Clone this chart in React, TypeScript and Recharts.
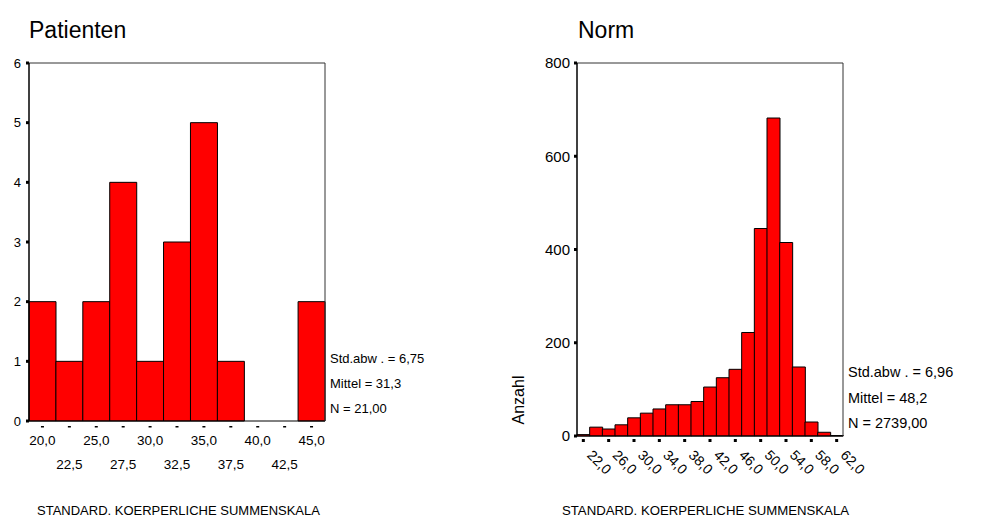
import React from 'react';
import { BarChart, Bar, XAxis, YAxis } from 'recharts';

const FONT = '"Liberation Sans", Arial, Helvetica, sans-serif';

// Patienten histogram (bin centres, width 2.5)
const patientBins = [20, 22.5, 25, 27.5, 30, 32.5, 35, 37.5, 40, 42.5, 45];
const patientCounts = [2, 1, 2, 4, 1, 3, 5, 1, 0, 0, 2];
const patientTicks = [0, 1, 2, 3, 4, 5, 6];
const patientStats = ['Std.abw . = 6,75', 'Mittel = 31,3', 'N = 21,00'];

// Norm histogram (bin centres, width 2)
const normBins = [22, 24, 26, 28, 30, 32, 34, 36, 38, 40, 42, 44, 46, 48, 50, 52, 54, 56, 58, 60, 62];
const normCounts = [3, 19, 15, 24, 39, 49, 58, 67, 67, 74, 105, 125, 143, 222, 445, 682, 415, 148, 30, 8, 1];
const normTicks = [0, 200, 400, 600, 800];
const normStats = ['Std.abw . = 6,96', 'Mittel = 48,2', 'N = 2739,00'];

const xTitle = 'STANDARD. KOERPERLICHE SUMMENSKALA';

const fmt = (v: number) => v.toFixed(1).replace('.', ',');

const patientData = patientBins.map((b, i) => ({ label: fmt(b), count: patientCounts[i] }));
const normData = normBins.map((b, i) => ({ label: fmt(b), count: normCounts[i] }));

function PatientTick(props: any) {
  const { x, y, payload, index } = props;
  const row = index % 2 === 0 ? 22 : 46;
  return (
    <g>
      <rect x={x - 1.5} y={y + 3} width={3} height={1.5} fill="#000" />
      <text x={x} y={y + row} textAnchor="middle" fontSize={13.5} fontFamily={FONT} fill="#000">
        {payload.value}
      </text>
    </g>
  );
}

function NormTick(props: any) {
  const { x, y, payload } = props;
  const tx = x + 3;
  const ty = y + 18;
  return (
    <g>
      <rect x={x - 1.5} y={y + 1} width={3} height={3} fill="#000" />
      <text x={tx} y={ty} transform={`rotate(45 ${tx} ${ty})`} textAnchor="start" fontSize={14} fontFamily={FONT} fill="#000">
        {payload.value}
      </text>
    </g>
  );
}

function PatientChart() {
  return (
    <div style={{ position: 'absolute', left: 0, top: 0 }}>
      <BarChart width={340} height={520} data={patientData} margin={{ top: 62, right: 14, bottom: 49, left: 0 }} barCategoryGap={0}>
        <XAxis dataKey="label" interval={0} height={50} tickLine={false} tickSize={0} axisLine={{ stroke: '#000' }} tick={<PatientTick />} />
        <XAxis xAxisId="top" orientation="top" dataKey="label" height={1} tick={false} tickLine={false} axisLine={{ stroke: '#333' }} />
        <YAxis
          domain={[0, 6]}
          ticks={patientTicks}
          width={29}
          tickSize={3}
          tickMargin={5}
          tickLine={{ stroke: '#000', strokeWidth: 3 }}
          axisLine={{ stroke: '#000', strokeWidth: 1.5 }}
          tick={{ fill: '#000', fontSize: 13, fontFamily: FONT }}
        />
        <YAxis yAxisId="right" orientation="right" domain={[0, 6]} width={1} tick={false} tickLine={false} axisLine={{ stroke: '#333' }} />
        <Bar dataKey="count" fill="#ff0000" stroke="#000" strokeWidth={1} isAnimationActive={false} />
      </BarChart>
    </div>
  );
}

function NormChart() {
  return (
    <div style={{ position: 'absolute', left: 495, top: 0 }}>
      <BarChart width={390} height={520} data={normData} margin={{ top: 62, right: 41, bottom: 34, left: 0 }} barCategoryGap={0}>
        <XAxis dataKey="label" interval={1} height={50} tickLine={false} tickSize={0} axisLine={{ stroke: '#000' }} tick={<NormTick />} />
        <XAxis xAxisId="top" orientation="top" dataKey="label" height={1} tick={false} tickLine={false} axisLine={{ stroke: '#333' }} />
        <YAxis
          domain={[0, 800]}
          ticks={normTicks}
          width={82}
          tickSize={3}
          tickMargin={4}
          tickLine={{ stroke: '#000', strokeWidth: 3 }}
          axisLine={{ stroke: '#000', strokeWidth: 1.5 }}
          tick={{ fill: '#000', fontSize: 15, fontFamily: FONT }}
        />
        <YAxis yAxisId="right" orientation="right" domain={[0, 800]} width={1} tick={false} tickLine={false} axisLine={{ stroke: '#333' }} />
        <Bar dataKey="count" fill="#ff0000" stroke="#000" strokeWidth={1} isAnimationActive={false} />
      </BarChart>
    </div>
  );
}

export default function App() {
  return (
    <div style={{ position: 'absolute', left: 0, top: 0, width: 991, height: 520, background: '#fff', overflow: 'hidden' }}>
      <PatientChart />
      <NormChart />
      <svg width={991} height={520} style={{ position: 'absolute', left: 0, top: 0, pointerEvents: 'none' }} fontFamily={FONT} fill="#000">
        <text x={29} y={38} fontSize={23}>Patienten</text>
        <text x={578} y={38} fontSize={23}>Norm</text>
        {patientStats.map((s, i) => (
          <text key={s} x={330} y={363 + i * 25} fontSize={13}>{s}</text>
        ))}
        {normStats.map((s, i) => (
          <text key={s} x={848} y={377 + i * 25.5} fontSize={14.5}>{s}</text>
        ))}
        <text x={524} y={400} fontSize={16} textAnchor="middle" transform="rotate(-90 524 400)">Anzahl</text>
        <text x={37} y={515} fontSize={13}>{xTitle}</text>
        <text x={562} y={515} fontSize={13.2}>{xTitle}</text>
      </svg>
    </div>
  );
}
